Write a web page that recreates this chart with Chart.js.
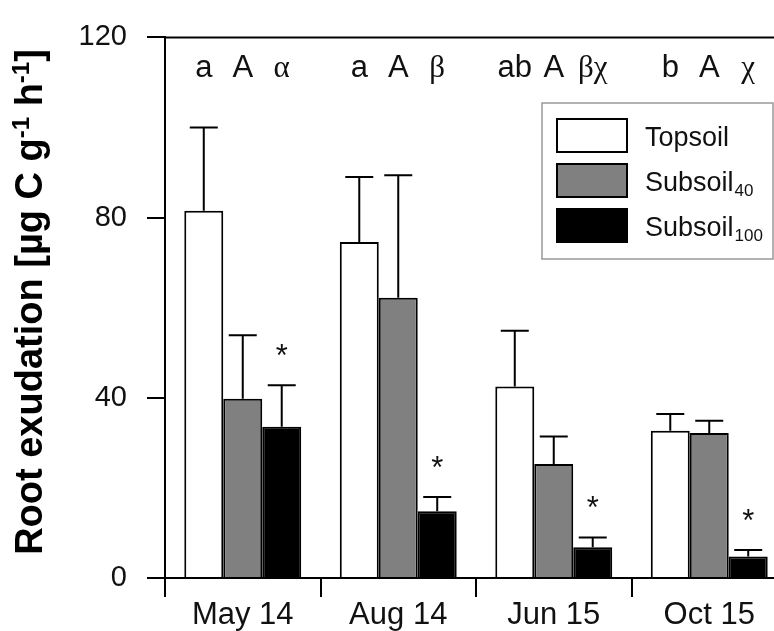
<!DOCTYPE html>
<html>
<head>
    <title>Root exudation</title>
    <script src="https://cdn.jsdelivr.net/npm/chart.js"></script>
    <style>
        * { margin: 0; padding: 0; box-sizing: border-box; }
        body { background: #fff; overflow: hidden; }
        .chart-box { width: 774px; height: 631px; overflow: hidden; position: relative; }
        canvas { display: block; }
    </style>
</head>
<body>
    <div class="chart-box">
        <canvas id="exudChart" width="800" height="631"></canvas>
    </div>

    <script>
        // Data
        const categories = ['May 14', 'Aug 14', 'Jun 15', 'Oct 15'];
        const topsoil = [81.5, 74.6, 42.5, 32.7];
        const topsoilErr = [18.5, 14.4, 12.4, 3.7];
        const subsoil40 = [39.8, 62.2, 25.3, 32.2];
        const subsoil40Err = [14.1, 27.2, 6.1, 2.7];
        const subsoil100 = [33.6, 14.8, 6.8, 4.8];
        const subsoil100Err = [9.2, 3.2, 2.2, 1.4];
        const topsoilLetters = ['a', 'a', 'ab', 'b'];
        const subsoil40Letters = ['A', 'A', 'A', 'A'];
        const subsoil100Letters = ['α', 'β', 'βχ', 'χ'];
        const subsoil100Sig = [true, true, true, true];
        const yTicks = [0, 40, 80, 120];

        const errors = [topsoilErr, subsoil40Err, subsoil100Err];
        const letters = [topsoilLetters, subsoil40Letters, subsoil100Letters];
        const legendItems = [
            { main: 'Topsoil', sub: '' },
            { main: 'Subsoil', sub: '40' },
            { main: 'Subsoil', sub: '100' }
        ];

        const SANS = '"Liberation Sans", Arial, sans-serif';
        const SERIF = '"Liberation Serif", "Times New Roman", serif';

        // error bars, letters, asterisks, frame, legend and axis title
        const extras = {
            id: 'extras',
            afterDatasetsDraw(chart) {
                const ctx = chart.ctx;
                const area = chart.chartArea;
                const yScale = chart.scales.y;
                ctx.save();
                ctx.strokeStyle = '#000';
                ctx.fillStyle = '#111';
                ctx.lineWidth = 2;

                // top frame line
                ctx.beginPath();
                ctx.moveTo(area.left, area.top);
                ctx.lineTo(area.right, area.top);
                ctx.stroke();

                chart.data.datasets.forEach((ds, i) => {
                    const meta = chart.getDatasetMeta(i);
                    meta.data.forEach((el, j) => {
                        const yErr = yScale.getPixelForValue(ds.data[j] + errors[i][j]);
                        ctx.beginPath();
                        ctx.moveTo(el.x, el.y);
                        ctx.lineTo(el.x, yErr);
                        ctx.moveTo(el.x - 14, yErr);
                        ctx.lineTo(el.x + 14, yErr);
                        ctx.stroke();

                        // group letters along the top
                        const lab = letters[i][j];
                        ctx.textAlign = 'center';
                        ctx.textBaseline = 'alphabetic';
                        ctx.font = (i === 2 ? '31px ' + SERIF : '31px ' + SANS);
                        ctx.fillText(lab, el.x, area.top + 40);

                        if (i === 2 && subsoil100Sig[j]) {
                            ctx.font = '31px ' + SANS;
                            ctx.fillText('*', el.x, yErr - 19);
                        }
                    });
                });

                // legend
                const lx = area.left + 377, ly = 103;
                ctx.strokeStyle = '#999';
                ctx.lineWidth = 1.5;
                ctx.strokeRect(lx, ly, 231, 156);
                chart.data.datasets.forEach((ds, i) => {
                    const sy = 119 + i * 45;
                    ctx.fillStyle = ds.backgroundColor;
                    ctx.fillRect(lx + 15, sy, 70, 33);
                    ctx.strokeStyle = '#000';
                    ctx.lineWidth = 2;
                    ctx.strokeRect(lx + 15, sy, 70, 33);
                    ctx.fillStyle = '#111';
                    ctx.textAlign = 'left';
                    ctx.font = '27px ' + SANS;
                    const base = sy + 27;
                    ctx.fillText(legendItems[i].main, lx + 103, base);
                    if (legendItems[i].sub) {
                        const w = ctx.measureText(legendItems[i].main).width;
                        ctx.font = '17px ' + SANS;
                        ctx.fillText(legendItems[i].sub, lx + 104 + w, base + 5);
                    }
                });

                // y axis title with superscripts
                const parts = [
                    { t: 'Root exudation [µg C g', sup: false },
                    { t: '-1', sup: true },
                    { t: ' h', sup: false },
                    { t: '-1', sup: true },
                    { t: ']', sup: false }
                ];
                const mainFont = 'bold 38px ' + SANS;
                const supFont = 'bold 24px ' + SANS;
                let total = 0;
                parts.forEach(p => {
                    ctx.font = p.sup ? supFont : mainFont;
                    p.w = ctx.measureText(p.t).width;
                    total += p.w;
                });
                ctx.translate(42, 302);
                ctx.rotate(-Math.PI / 2);
                ctx.fillStyle = '#000';
                ctx.textAlign = 'left';
                ctx.textBaseline = 'alphabetic';
                let x = -total / 2;
                parts.forEach(p => {
                    ctx.font = p.sup ? supFont : mainFont;
                    ctx.fillText(p.t, x, p.sup ? -13 : 0);
                    x += p.w;
                });
                ctx.restore();
            }
        };

        const barStyle = {
            borderColor: '#000',
            borderWidth: 2,
            categoryPercentage: 0.752,
            barPercentage: 1.0
        };

        const config = {
            type: 'bar',
            data: {
                labels: categories,
                datasets: [
                    Object.assign({ label: 'Topsoil', data: topsoil, backgroundColor: '#ffffff' }, barStyle),
                    Object.assign({ label: 'Subsoil40', data: subsoil40, backgroundColor: '#808080' }, barStyle),
                    Object.assign({ label: 'Subsoil100', data: subsoil100, backgroundColor: '#000000' }, barStyle)
                ]
            },
            options: {
                responsive: false,
                animation: false,
                layout: { padding: { top: 27, right: 13, left: 0, bottom: 0 } },
                plugins: {
                    legend: { display: false },
                    tooltip: { enabled: false }
                },
                scales: {
                    x: {
                        offset: true,
                        grid: {
                            offset: true,
                            drawOnChartArea: false,
                            color: '#000',
                            lineWidth: 2,
                            tickLength: 19
                        },
                        border: { color: '#000', width: 2 },
                        ticks: {
                            color: '#111',
                            font: { family: SANS, size: 31 },
                            padding: 0,
                            maxRotation: 0
                        },
                        afterFit: (s) => { s.height = 53; }
                    },
                    y: {
                        min: 0,
                        max: 120,
                        afterBuildTicks: (s) => { s.ticks = yTicks.map(v => ({ value: v })); },
                        grid: {
                            drawOnChartArea: false,
                            color: '#000',
                            lineWidth: 2,
                            tickLength: 18
                        },
                        border: { color: '#000', width: 2 },
                        ticks: {
                            color: '#111',
                            font: { family: SANS, size: 29 },
                            padding: 20
                        },
                        afterFit: (s) => { s.width = 165; }
                    }
                }
            },
            plugins: [extras]
        };

        const ctx = document.getElementById('exudChart').getContext('2d');
        const chart = new Chart(ctx, config);
    </script>
</body>
</html>
